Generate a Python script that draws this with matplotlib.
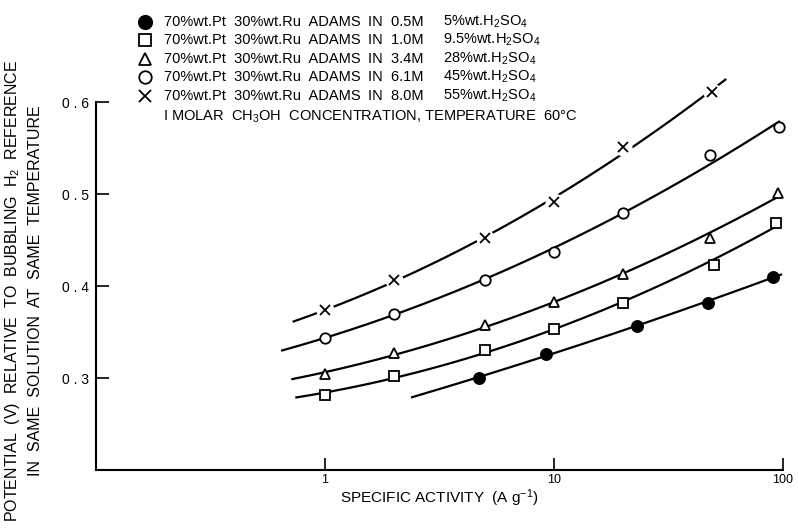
import numpy as np
import matplotlib.pyplot as plt

plt.rcParams['font.family'] = ['Liberation Sans', 'DejaVu Sans']
plt.rcParams['mathtext.fontset'] = 'custom'
plt.rcParams['mathtext.rm'] = 'Liberation Sans'
plt.rcParams['mathtext.it'] = 'Liberation Sans'

# specific activity (A/g) and potential (V) for each acid strength
x_05m = [4.7, 9.2, 23, 47, 90]
y_05m = [0.300, 0.326, 0.3565, 0.382, 0.410]
x_10m = [1, 2, 5, 10, 20, 50, 93]
y_10m = [0.2815, 0.3025, 0.330, 0.353, 0.382, 0.423, 0.469]
x_34m = [1, 2, 5, 10, 20, 48, 95]
y_34m = [0.304, 0.327, 0.3576, 0.383, 0.413, 0.452, 0.501]
x_61m = [1, 2, 5, 10, 20, 48, 96]
y_61m = [0.344, 0.370, 0.4065, 0.437, 0.479, 0.542, 0.573]
x_80m = [1, 2, 5, 10, 20, 49]
y_80m = [0.3736, 0.4065, 0.452, 0.4916, 0.5507, 0.611]

# extent of the smoothed curve drawn through each set
curve_span = [(2.4, 98), (0.75, 95), (0.72, 96), (0.65, 96), (0.73, 56)]

molarity = ["0.5M", "1.0M", "3.4M", "6.1M", "8.0M"]
acid_pct = ["5", "9.5", "28", "45", "55"]

xs = [x_05m, x_10m, x_34m, x_61m, x_80m]
ys = [y_05m, y_10m, y_34m, y_61m, y_80m]
styles = [
    dict(marker='o', ms=8, mfc='black', mec='black'),
    dict(marker='s', ms=7, mfc='white', mec='black'),
    dict(marker='^', ms=7.5, mfc='white', mec='black'),
    dict(marker='o', ms=7.5, mfc='white', mec='black'),
    dict(marker='x', ms=7, mfc='none', mec='black'),
]

fig = plt.figure(figsize=(7.98, 5.29), dpi=100)
ax = fig.add_axes([96 / 798, 1 - 470 / 529, (783 - 96) / 798, 368 / 529])

for x, y, (lo, hi), st in zip(xs, ys, curve_span, styles):
    lx = np.log10(x)
    coef = np.polyfit(lx, y, 2)
    t = np.linspace(np.log10(lo), np.log10(hi), 200)
    ax.plot(10 ** t, np.polyval(coef, t), color='black', lw=1.6, zorder=2, clip_on=False)
    if st['marker'] == 'x':
        # white patch so the curve breaks around each cross
        ax.plot(x, y, ls='none', marker='o', ms=12, mfc='white', mec='white',
                zorder=3, clip_on=False)
    ax.plot(x, y, ls='none', mew=1.3, zorder=4, clip_on=False, **st)

ax.set_xscale('log')
ax.set_xlim(0.1, 100)
ax.set_ylim(0.2, 0.6)
ax.set_xticks([1, 10, 100])
ax.set_xticklabels(["1", "10", "100"])
ax.minorticks_off()
ax.set_yticks([0.3, 0.4, 0.5, 0.6])
ax.set_yticklabels(["0 . 3", "0 . 4", "0 . 5", "0 . 6"])
ax.tick_params(direction='in', length=9, width=1.2, labelsize=10, pad=5)
ax.tick_params(axis='x', labelsize=9, pad=3)
for side in ['top', 'right']:
    ax.spines[side].set_visible(False)
for side in ['left', 'bottom']:
    ax.spines[side].set_linewidth(1.5)

ax.set_xlabel("SPECIFIC ACTIVITY  (A g$^{-1}$)", fontsize=11, labelpad=1)
fig.text(13 / 798, 1 - 291 / 529, "POTENTIAL  (V)  RELATIVE  TO  BUBBLING  H$_2$  REFERENCE",
         rotation=90, ha='center', va='center', fontsize=11.5)
fig.text(36 / 798, 1 - 291 / 529, "IN  SAME  SOLUTION  AT  SAME  TEMPERATURE",
         rotation=90, ha='center', va='center', fontsize=11.5)

# key in the upper left, drawn in pixel coordinates
key = fig.add_axes([0, 0, 1, 1], facecolor='none')
key.set_xlim(0, 798)
key.set_ylim(529, 0)
key.axis('off')
row_y = [22, 40, 59, 77, 96]
for yy, m, pct, st in zip(row_y, molarity, acid_pct, styles):
    big = dict(st, ms=st['ms'] * 1.2)
    key.plot([145], [yy], ls='none', mew=1.3, **big)
    key.text(164, yy, "70%wt.Pt  30%wt.Ru  ADAMS", va='center', fontsize=10.5)
    key.text(368, yy, "IN  " + m, va='center', fontsize=10.5)
    key.text(443, yy, pct + "%wt.H$_2$SO$_4$", va='center', fontsize=10.5)
key.text(163, 117, "I MOLAR  CH$_3$OH  CONCENTRATION, TEMPERATURE  60°C",
         va='center', fontsize=10.5)

fig.savefig("out.png", dpi=100)
